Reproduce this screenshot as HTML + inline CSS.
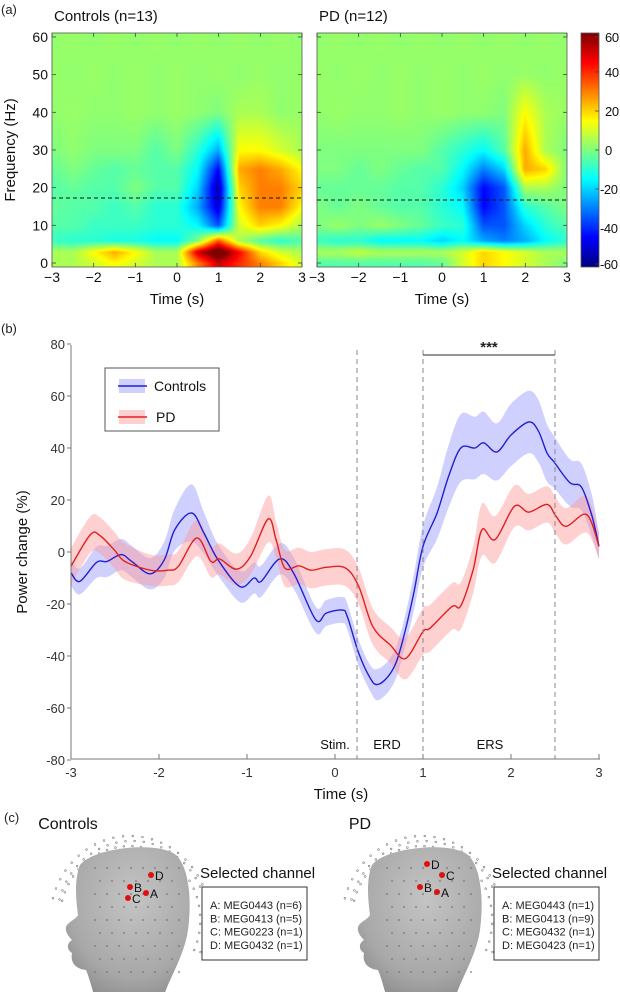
<!DOCTYPE html>
<html><head><meta charset="utf-8">
<style>
body{margin:0;background:#fff;}
#wrap{position:relative;width:620px;height:992px;overflow:hidden;font-family:"Liberation Sans",Arial,sans-serif;}
svg text{font-family:"Liberation Sans",Arial,sans-serif;}
canvas{position:absolute;}
</style></head>
<body>
<div id="wrap">
<canvas id="hmC" width="250" height="234" style="left:52px;top:33px"></canvas>
<canvas id="hmP" width="250" height="234" style="left:317px;top:33px"></canvas>
<canvas id="cbar" width="18" height="234" style="left:581px;top:33px"></canvas>
<svg id="svg" width="620" height="992" style="position:absolute;left:0;top:0"></svg>
</div>
<script>
// ---------- Panel (a) data ----------
var hmTimes=[-3,-2.5,-2,-1.5,-1,-0.5,0,0.5,1,1.5,2,2.5,3];
var hmFreqs=[60,50,40,30,25,20,15,10,6,3,0];
var ctrlMap=[
[2,3,2,3,2,3,2,3,2,3,2,3,2],
[3,2,3,2,3,2,3,2,3,2,3,2,3],
[2,3,2,2,3,2,3,2,0,5,5,2,3],
[0,2,0,0,0,-5,0,-10,-25,15,15,10,5],
[-3,0,-3,-5,-3,-5,-5,-15,-45,25,30,25,15],
[-5,-3,-5,-5,0,-5,-5,-20,-55,20,30,30,20],
[-3,-5,-5,-8,-5,-10,-10,-25,-50,15,30,30,15],
[-5,-5,-8,-8,-8,-10,-10,-15,-35,10,20,15,5],
[-8,-10,-10,-12,-12,-15,-15,0,35,5,-5,-10,-5],
[5,5,15,25,15,5,5,50,70,45,20,10,5],
[5,5,10,15,10,5,5,30,50,40,30,20,10]];
var pdMap=[
[2,3,2,3,2,3,2,3,2,3,2,3,2],
[3,2,3,2,3,2,3,2,3,2,3,2,3],
[2,3,2,2,3,2,3,2,2,0,15,5,3],
[0,0,0,0,0,0,-5,-10,-15,-5,25,5,0],
[0,0,-3,0,-3,-5,-5,-15,-30,-20,25,20,0],
[-3,-3,-3,-3,-5,-5,-10,-20,-45,-35,5,5,0],
[0,-3,0,-3,-5,-5,-10,-15,-45,-35,-10,-5,0],
[0,3,0,3,0,-3,-8,-10,-35,-35,-20,-10,-5],
[-8,-10,-10,-15,-15,-15,-20,-15,-25,-30,-25,-15,-10],
[5,5,8,5,5,5,5,10,20,15,10,5,5],
[-5,-5,-5,-5,-5,-5,-3,10,20,15,10,5,0]];
var cbTicks=[60,40,20,0,-20,-40,-60];
var hmXTicks=[-3,-2,-1,0,1,2,3];
var hmYTicks=[0,10,20,30,40,50,60];

// ---------- Panel (b) data ----------
var ctrlT=[-3,-2.9,-2.71,-2.59,-2.43,-2.31,-2.1,-1.94,-1.82,-1.63,-1.49,-1.33,-1.08,-0.92,-0.84,-0.63,-0.47,-0.22,-0.1,0.08,0.14,0.27,0.4,0.48,0.6,0.7,0.8,0.9,1.0,1.16,1.29,1.43,1.59,1.69,1.84,2.0,2.2,2.31,2.41,2.49,2.67,2.8,2.92,3];
var ctrlV=[-8,-11.3,-4,-3.6,-1,-3.6,-8.4,-3,8.6,15,7.3,-3,-13.3,-10,-11.3,-2.7,-8.1,-26,-23.5,-22.3,-24.8,-39,-48.5,-51,-48,-42,-30,-15,2.2,15,29,40,40,42,38.5,45,50,46.6,38,34.6,26.6,25,13.8,2.2];
var ctrlSem=[5,5,6,6,6,6,6,7,8,11,8,6,6,6,6,6,6,5,5,5,5,5,5,6,6,6,6,7,8,10,12,13,12,12,11,12,12,12,11,10,9,9,8,5];
var pdT=[-3,-2.78,-2.67,-2.51,-2.39,-2.1,-1.9,-1.78,-1.57,-1.41,-1.31,-1.12,-0.96,-0.76,-0.67,-0.57,-0.41,-0.27,-0.1,0.12,0.27,0.43,0.63,0.8,1.0,1.08,1.33,1.43,1.57,1.67,1.82,2.04,2.2,2.41,2.51,2.63,2.86,3];
var pdV=[-5.5,6.7,6.3,0.9,-3.6,-7,-7,-5.5,5.4,-3.6,-2.7,-6.6,-1.7,12.7,4.8,-6.2,-5.3,-7,-5.9,-6.2,-13.3,-28.7,-35.8,-41,-30.6,-29.3,-21,-20.7,-6.8,8.6,4.8,17.6,15.3,18.3,13.8,9.9,14.4,2.2];
var pdSem=[7,7,7,7,7,6,6,6,7,6,6,6,7,9,7,7,7,7,7,7,7,7,7,8,9,9,9,9,9,10,9,8,7,7,7,7,7,5];
var bXTicks=[-3,-2,-1,0,1,2,3];
var bYTicks=[80,60,40,20,0,-20,-40,-60,-80];
var markers=[0.25,1,2.5];

// ---------- helpers ----------
function jet(v){var x=(v+60)/120;x=Math.max(0,Math.min(1,x));
 function c(a){return Math.max(0,Math.min(1,1.5-Math.abs(4*x-a)));}
 return [Math.round(255*c(3)),Math.round(255*c(2)),Math.round(255*c(1))];}
function interp(arr,xs,x){
 var n=xs.length;
 for(var i=0;i<n-1;i++){var a=xs[i],b=xs[i+1];
  if((x>=Math.min(a,b))&&(x<=Math.max(a,b))){var f=(x-a)/(b-a);return [i,f];}}
 return x<xs[n-1]===(xs[0]<xs[n-1])?[0,0]:[n-2,1];}
function drawHeat(id,map){
 var cv=document.getElementById(id),ctx=cv.getContext('2d');
 var W=cv.width,H=cv.height,img=ctx.createImageData(W,H);
 for(var py=0;py<H;py++){
  var f=(263-(33+py))/3.767; f=Math.max(0,Math.min(60,f));
  var fi=interp(null,hmFreqs,f);
  for(var px=0;px<W;px++){
   var t=-3+px/(W-1)*6;
   var ti=interp(null,hmTimes,t);
   var r=fi[0],c=ti[0],a=fi[1],b=ti[1];
   var v=(1-a)*((1-b)*map[r][c]+b*map[r][c+1])+a*((1-b)*map[r+1][c]+b*map[r+1][c+1]);
   var col=jet(v),k=4*(py*W+px);
   img.data[k]=col[0];img.data[k+1]=col[1];img.data[k+2]=col[2];img.data[k+3]=255;}}
 ctx.putImageData(img,0,0);}
drawHeat('hmC',ctrlMap);drawHeat('hmP',pdMap);
(function(){var cv=document.getElementById('cbar'),ctx=cv.getContext('2d');
 for(var y=0;y<cv.height;y++){var v=60-y/(cv.height-1)*120;var c=jet(v);
  ctx.fillStyle='rgb('+c+')';ctx.fillRect(0,y,cv.width,1);}})();

var NS='http://www.w3.org/2000/svg',svg=document.getElementById('svg');
function el(tag,attrs,parent,txt){var e=document.createElementNS(NS,tag);
 for(var k in attrs)e.setAttribute(k,attrs[k]);if(txt!==undefined)e.textContent=txt;(parent||svg).appendChild(e);return e;}

// ---------- panel (a) axes ----------
var gA=el('g',{});


var t1=el('text',{x:1,y:14,'font-size':13,fill:'#222'},gA,'(a)');

var t2=el('text',{x:54,y:21,'font-size':15,fill:'#111'},gA,'Controls (n=13)');

var t3=el('text',{x:319,y:21,'font-size':15,fill:'#111'},gA,'PD (n=12)');

[[52,'controls'],[317,'pd']].forEach(function(p){
 var x0=p[0];
 var box=el('rect',{x:x0,y:33,width:250,height:234,fill:'none',stroke:'#555','stroke-width':0.8},gA);
 
 hmXTicks.forEach(function(t){var x=x0+(t+3)/6*250;
  el('line',{x1:x,y1:267,x2:x,y2:263,stroke:'#444','stroke-width':0.8},gA);
  el('line',{x1:x,y1:33,x2:x,y2:37,stroke:'#444','stroke-width':0.8},gA);
  var lab=el('text',{x:x,y:282,'font-size':14,'text-anchor':'middle',fill:'#111'},gA,t<0?'\u2212'+(-t):String(t));
  });
 hmYTicks.forEach(function(f){var y=263-f*3.767;
  el('line',{x1:x0,y1:y,x2:x0+4,y2:y,stroke:'#444','stroke-width':0.8},gA);
  el('line',{x1:x0+250,y1:y,x2:x0+246,y2:y,stroke:'#444','stroke-width':0.8},gA);});
 var xl=el('text',{x:x0+125,y:304,'font-size':15,'text-anchor':'middle',fill:'#111'},gA,'Time (s)');
 
 var dl=el('line',{x1:x0,y1:p[1]=='pd'?200:198,x2:x0+250,y2:p[1]=='pd'?200:198,stroke:'#111','stroke-width':1.1,'stroke-dasharray':'4 3'},gA);
 
});
hmYTicks.forEach(function(f){var y=263-f*3.767;
 var lab=el('text',{x:48,y:y+5,'font-size':14,'text-anchor':'end',fill:'#111'},gA,String(f));
 });
var yt=el('text',{x:0,y:0,'font-size':15,'text-anchor':'middle',fill:'#111',transform:'translate(15,150) rotate(-90)'},gA,'Frequency (Hz)');

el('rect',{x:581,y:33,width:18,height:234,fill:'none',stroke:'#555','stroke-width':0.8},gA);
cbTicks.forEach(function(v){var y=33+(60-v)/120*234;if(v==60)y=37;if(v==-60)y=264;
 el('line',{x1:595,y1:y,x2:599,y2:y,stroke:'#444','stroke-width':0.8},gA);
 var lab=el('text',{x:v<0?600:605,y:y+5,'font-size':13,'letter-spacing':'-0.4',fill:'#111'},gA,v<0?'-'+(-v):String(v));
 });

// ---------- panel (b) ----------
function xB(t){return 71+(t+3)*88;}
function yB(v){return 552-v*2.6;}
function smooth(pts){var d='M'+pts[0][0].toFixed(1)+','+pts[0][1].toFixed(1);
 for(var i=0;i<pts.length-1;i++){var p0=pts[Math.max(0,i-1)],p1=pts[i],p2=pts[i+1],p3=pts[Math.min(pts.length-1,i+2)];
  var c1x=p1[0]+(p2[0]-p0[0])/6,c1y=p1[1]+(p2[1]-p0[1])/6,c2x=p2[0]-(p3[0]-p1[0])/6,c2y=p2[1]-(p3[1]-p1[1])/6;
  d+='C'+c1x.toFixed(1)+','+c1y.toFixed(1)+' '+c2x.toFixed(1)+','+c2y.toFixed(1)+' '+p2[0].toFixed(1)+','+p2[1].toFixed(1);}
 return d;}
var gB=el('g',{});


var pb=el('text',{x:1,y:333,'font-size':13,fill:'#222'},gB,'(b)');

function band(T,V,S,color,name){
 var up=T.map(function(t,i){return [xB(t),yB(V[i]+S[i])];});
 var lo=T.map(function(t,i){return [xB(t),yB(V[i]-S[i])];}).reverse();
 var d=smooth(up)+'L'+smooth(lo).slice(1)+'Z';
 var p=el('path',{d:d,fill:color,'fill-opacity':0.45,stroke:'none'},gB);
 }
band(ctrlT,ctrlV,ctrlSem,'rgb(150,150,255)','controls-sem-band');
band(pdT,pdV,pdSem,'rgb(255,150,150)','pd-sem-band');
var lc=el('path',{d:smooth(ctrlT.map(function(t,i){return [xB(t),yB(ctrlV[i])];})),fill:'none',stroke:'#2020d0','stroke-width':1.4},gB);

var lp=el('path',{d:smooth(pdT.map(function(t,i){return [xB(t),yB(pdV[i])];})),fill:'none',stroke:'#e02020','stroke-width':1.4},gB);

markers.forEach(function(t){var m=el('line',{x1:xB(t),y1:350,x2:xB(t),y2:759,stroke:'#888','stroke-width':1,'stroke-dasharray':'5 4'},gB);
 });
var sb=el('line',{x1:xB(1),y1:355,x2:xB(2.5),y2:355,stroke:'#555','stroke-width':1.3},gB);

var st=el('text',{x:(xB(1)+xB(2.5))/2,y:352,'font-size':15,'font-weight':'bold','text-anchor':'middle',fill:'#222'},gB,'***');

el('line',{x1:71,y1:345,x2:71,y2:759,stroke:'#777','stroke-width':1},gB);
el('line',{x1:71,y1:759,x2:600,y2:759,stroke:'#777','stroke-width':1},gB);
bYTicks.forEach(function(v){var y=yB(v);
 el('line',{x1:67,y1:y,x2:71,y2:y,stroke:'#777','stroke-width':1},gB);
 var lab=el('text',{x:65,y:y+5,'font-size':13,'text-anchor':'end',fill:'#333'},gB,String(v));
 });
bXTicks.forEach(function(t){var x=xB(t);
 el('line',{x1:x,y1:759,x2:x,y2:754,stroke:'#777','stroke-width':1},gB);
 var lab=el('text',{x:x,y:777,'font-size':13,'text-anchor':'middle',fill:'#333'},gB,String(t));
 });
var bx=el('text',{x:341,y:799,'font-size':15,'text-anchor':'middle',fill:'#111'},gB,'Time (s)');

var by=el('text',{x:0,y:0,'font-size':15,'text-anchor':'middle',fill:'#111',transform:'translate(27,552) rotate(-90)'},gB,'Power change (%)');

[['Stim.',335],['ERD',387],['ERS',490]].forEach(function(a){
 var e=el('text',{x:a[1],y:749,'font-size':13,'text-anchor':'middle',fill:'#111'},gB,a[0]);
 });
var lg=el('g',{},gB);

el('rect',{x:105,y:368,width:114,height:63,fill:'#fff',stroke:'#555','stroke-width':1},lg);
el('rect',{x:119,y:379,width:26,height:14,fill:'rgb(150,150,255)','fill-opacity':0.45},lg);
el('line',{x1:118,y1:386,x2:147,y2:386,stroke:'#2020d0','stroke-width':1.4},lg);
var l1=el('text',{x:154,y:391,'font-size':14,fill:'#111'},lg,'Controls');

el('rect',{x:119,y:410,width:26,height:14,fill:'rgb(255,150,150)','fill-opacity':0.45},lg);
el('line',{x1:118,y1:417,x2:147,y2:417,stroke:'#e02020','stroke-width':1.4},lg);
var l2=el('text',{x:156,y:422,'font-size':14,fill:'#111'},lg,'PD');


// ---------- panel (c) ----------
var gC=el('g',{});


var defs=el('defs',{},gC);
var rg=el('radialGradient',{id:'headg',cx:'0.55',cy:'0.35',r:'0.75'},defs);
el('stop',{offset:'0','stop-color':'#c4c4c4'},rg);
el('stop',{offset:'0.7','stop-color':'#a8a8a8'},rg);
el('stop',{offset:'1','stop-color':'#8a8a8a'},rg);
var pc=el('text',{x:4,y:822,'font-size':13,fill:'#222'},gC,'(c)');

var headPath='M16,20 C30,2 95,-4 112,10 C125,22 128,55 124,85 C121,105 112,122 104,140 L100,150 L30,150 C27,140 25,132 22,125 C12,124 6,118 8,108 C2,104 3,98 8,95 C3,90 0,84 3,80 C6,76 12,74 14,70 C12,55 10,35 16,20 Z';
function head(ox,title,dots,rows,name){
 var g=el('g',{transform:'translate('+ox+',0)'},gC);
 
 var tt=el('text',{x:68,y:829,'font-size':16,'text-anchor':'middle',fill:'#111'},g,title);
 
 for(var ring=0;ring<3;ring++){for(var a=195;a<=390;a+=7){var r=(a*Math.PI/180),R=74+ring*5;
  var cx=130+R*Math.cos(r)*0.95,cy=920+R*Math.sin(r)*1.0;
  if(cy>985)continue; el('circle',{cx:cx+(ring%2)*2,cy:cy,r:0.9,fill:'none',stroke:'#777','stroke-width':0.6},g);}}
 el('path',{d:headPath,fill:'url(#headg)',transform:'translate(64,845)'},g);
 for(var i=0;i<8;i++)for(var j=0;j<9;j++){var dx=95+i*12+(j%2)*5,dy=868+j*13;
  if(dx>180||dy>985)continue; el('circle',{cx:dx,cy:dy,r:0.9,fill:'none',stroke:'#777','stroke-width':0.5},g);}
 dots.forEach(function(d){el('circle',{cx:d[1],cy:d[2],r:3,fill:'#e01010'},g);
  var lt=el('text',{x:d[1]+4,y:d[2]+5,'font-size':12,fill:'#111'},g,d[0]);
  });
 var sc=el('text',{x:200,y:878,'font-size':15,fill:'#111'},g,'Selected channel');
 
 var bxr=el('rect',{x:202,y:887,width:105,height:73,fill:'#fff',stroke:'#333','stroke-width':1},g);
 
 rows.forEach(function(r,i){var e=el('text',{x:210,y:909+i*13.3,'font-size':11,fill:'#222'},g,r);
  });
}
head(0,'Controls',[['D',151,875],['B',130,887],['C',128,898],['A',146,893]],
 ['A: MEG0443 (n=6)','B: MEG0413 (n=5)','C: MEG0223 (n=1)','D: MEG0432 (n=1)'],'controls');
head(292,'PD',[['D',135,864],['C',150,875],['B',128,887],['A',145,892]],
 ['A: MEG0443 (n=1)','B: MEG0413 (n=9)','C: MEG0432 (n=1)','D: MEG0423 (n=1)'],'pd');
</script>
</body></html>
